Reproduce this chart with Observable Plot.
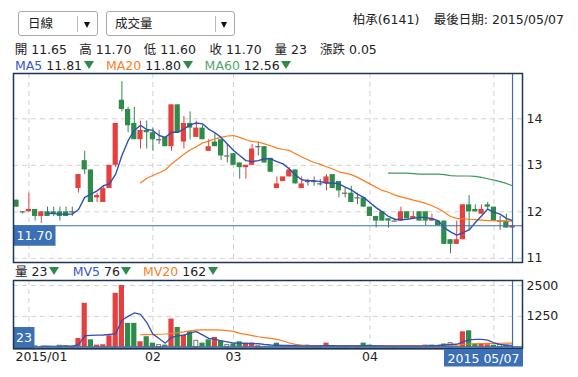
<!DOCTYPE html>
<html><head><meta charset="utf-8">
<script src="https://cdn.jsdelivr.net/npm/d3@7"></script>
<script src="https://cdn.jsdelivr.net/npm/@observablehq/plot@0.6"></script>
<style>
body{margin:0;background:#fff;font-family:"DejaVu Sans","Noto Sans CJK TC",sans-serif;color:#222;}
#wrap{position:relative;width:578px;height:377px;overflow:hidden;}
.abs{position:absolute;white-space:nowrap;line-height:13px;height:13px;font-size:12.5px;}
.abs span{display:inline-block;line-height:13px;height:13px;}
.grp{position:absolute;white-space:nowrap;line-height:13px;height:13px;font-size:12.5px;}
.grp span{display:inline-block;line-height:13px;height:13px;vertical-align:top;}
.grp span.tri{width:0;height:0;border-left:5px solid transparent;border-right:5px solid transparent;border-top:8px solid #2e8b4a;margin-left:1.5px;margin-top:2.5px;}
.sel{position:absolute;top:11px;height:25px;border:1px solid #a9a9a9;border-radius:3px;box-sizing:border-box;background:#fff;}
.sel .t{position:absolute;top:4px;font-size:12.5px;line-height:15px;}
.sel .sep{position:absolute;top:4px;width:1px;height:16px;background:#bbb;}
.sel .arr{position:absolute;top:10px;width:0;height:0;border-left:3.5px solid transparent;border-right:3.5px solid transparent;border-top:6px solid #111;}
#main,#vol{position:absolute;left:0;}
#main{top:68px;} #vol{top:275px;}
</style></head>
<body><div id="wrap">
<div class="sel" style="left:18px;width:80px"><span class="t" style="left:9px">日線</span><span class="sep" style="left:58px"></span><span class="arr" style="left:65px"></span></div>
<div class="sel" style="left:106px;width:129px"><span class="t" style="left:8px">成交量</span><span class="sep" style="left:108px"></span><span class="arr" style="left:113.5px"></span></div>
<div class="abs" style="right:14px;top:13px"><span>柏承(6141)</span><span style="margin-left:14.5px">最後日期: 2015/05/07</span></div>
<div id="ohlc"></div>
<div id="malegend"></div>
<div id="main"></div>
<div id="vlegend"></div>
<div id="vol"></div>
</div>
<script>
// ---- data ----
const opens = [12.25,12.00,12.00,12.05,11.90,12.00,12.00,12.00,12.00,12.00,
 12.50,13.10,12.90,12.30,12.20,12.50,13.00,14.40,14.20,13.90,
 13.55,13.75,13.70,13.55,13.60,13.40,14.30,13.50,13.90,13.60,
 13.80,13.30,13.50,13.55,13.20,13.25,13.05,12.95,13.00,13.40,
 13.40,13.15,12.50,12.65,12.75,12.90,12.50,12.65,12.65,12.60,
 12.60,12.80,12.65,12.40,12.40,12.30,12.30,12.10,11.90,12.00,
 11.85,11.80,11.80,12.00,11.85,12.00,12.00,11.80,11.80,11.80,
 11.40,11.30,11.40,12.15,12.05,11.95,12.15,12.10,11.80,11.80,
 11.65];
const highs = [12.25,12.00,12.40,12.05,12.00,12.10,12.10,12.10,12.10,12.10,
 12.80,13.30,12.90,12.40,12.55,13.00,13.90,14.80,14.25,14.25,
 13.95,13.95,13.80,13.75,13.60,14.30,14.30,14.05,14.15,13.95,
 13.85,13.55,13.70,13.55,13.45,13.25,13.05,13.00,13.45,13.50,
 13.40,13.15,12.75,12.75,12.95,12.90,12.75,12.70,12.75,12.70,
 12.80,12.80,12.65,12.50,12.55,12.40,12.30,12.10,11.90,12.00,
 11.85,11.85,12.10,12.00,12.00,12.00,12.00,11.95,11.80,11.80,
 11.40,11.80,12.15,12.35,12.15,12.15,12.20,12.10,11.90,11.95,
 11.70];
const lows = [12.10,11.95,12.00,11.80,11.75,11.90,11.90,11.80,11.90,11.90,
 12.40,12.80,12.20,12.20,12.20,12.50,12.95,14.15,13.70,13.55,
 13.35,13.35,13.30,13.45,13.40,13.30,13.70,13.35,13.55,13.60,
 13.55,13.30,13.40,13.10,13.05,13.00,12.70,12.70,13.00,13.20,
 13.05,12.85,12.50,12.65,12.75,12.60,12.50,12.55,12.55,12.55,
 12.45,12.50,12.30,12.30,12.20,12.15,12.10,11.90,11.65,11.80,
 11.65,11.80,11.80,11.85,11.85,11.80,11.70,11.80,11.70,11.30,
 11.10,11.30,11.40,11.60,12.00,11.95,12.05,11.80,11.60,11.65,
 11.60];
const closes = [12.10,12.00,12.05,11.90,12.00,11.90,11.95,11.90,11.90,12.00,
 12.80,12.90,12.20,12.35,12.50,13.00,13.90,14.20,13.85,13.55,
 13.75,13.70,13.55,13.55,13.40,14.30,13.70,13.90,13.80,13.80,
 13.55,13.40,13.40,13.20,13.20,13.00,12.95,13.00,13.35,13.40,
 13.05,12.85,12.60,12.75,12.90,12.60,12.60,12.65,12.65,12.60,
 12.75,12.50,12.45,12.40,12.20,12.30,12.10,11.90,11.80,11.80,
 11.80,11.80,12.00,11.85,11.90,11.80,11.80,11.85,11.70,11.30,
 11.30,11.40,12.15,12.00,12.00,12.05,12.10,11.80,11.80,11.65,
 11.70];
const volumes = [80,40,60,55,30,25,20,60,60,20,
 355,1780,300,85,100,465,2185,2500,965,965,
 220,425,165,85,85,1140,800,490,625,260,
 165,300,395,260,85,130,220,165,165,60,
 30,30,165,30,60,30,30,60,20,25,
 165,30,40,30,60,30,165,85,60,30,
 40,30,50,30,40,30,85,85,40,130,
 165,30,625,665,130,130,100,80,90,85,
 23];
const volDir = ["d","f","u","d","u","d","d","f","d","f",
 "u","u","d","u","u","u","u","u","d","d",
 "u","d","d","f","d","u","d","u","d","f",
 "d","d","u","d","f","d","d","u","u","f",
 "d","d","d","u","u","d","d","f","f","f",
 "u","d","d","f","d","f","d","d","d","d",
 "d","f","u","d","u","d","u","d","d","d",
 "f","u","u","d","d","u","u","d","f","d",
 "u"];
const ma5Start = 5;
const ma5 = [11.97,11.96,11.95,11.95,11.95,
 12.05,12.31,12.38,12.45,12.56,12.60,12.81,13.21,13.53,13.75,
 13.86,13.77,13.75,13.64,13.60,13.71,13.71,13.78,13.87,13.91,
 13.89,13.78,13.70,13.60,13.46,13.32,13.21,13.10,13.08,13.10,
 13.14,13.14,13.08,13.03,12.92,12.79,12.69,12.67,12.67,12.65,
 12.62,12.62,12.60,12.53,12.47,12.38,12.31,12.20,12.09,12.00,
 11.90,11.84,11.83,11.84,11.86,11.88,11.88,11.85,11.81,11.66,
 11.57,11.50,11.55,11.61,11.77,11.91,12.06,11.99,11.95,11.86,
 11.81];
const ma20Start = 20;
const ma20 = [12.62,12.72,12.78,12.84,12.90,13.03,13.13,13.24,13.33,13.40,
 13.48,13.52,13.57,13.60,13.63,13.64,13.60,13.55,13.51,13.50,
 13.46,13.42,13.37,13.34,13.32,13.25,13.18,13.12,13.06,13.02,
 12.97,12.92,12.86,12.83,12.80,12.74,12.67,12.60,12.53,12.46,
 12.42,12.36,12.32,12.29,12.25,12.22,12.18,12.13,12.07,11.99,
 11.90,11.86,11.85,11.84,11.83,11.82,11.81,11.81,11.81,11.80,
 11.80];
const ma60Start = 60;
const ma60 = [12.83,12.83,12.83,12.83,12.82,12.81,12.81,12.81,12.81,12.80,
 12.78,12.77,12.77,12.77,12.76,12.74,12.71,12.68,12.65,12.61,
 12.56];
const mv5Start = 4;
const mv5 = [40,40,35,40,45,45,
 100,464,480,490,495,520,545,1090,1250,1388,
 1330,1010,530,355,165,400,460,490,580,630,
 500,360,330,260,220,170,165,150,150,145,
 110,90,80,75,70,60,55,55,50,50,
 60,60,55,50,50,55,60,60,55,50,
 45,45,45,40,40,45,55,65,70,90,
 110,120,220,300,320,315,290,180,110,85,
 76];
const mv20Start = 20;
const mv20 = [505,510,515,525,535,560,590,620,665,690,
 705,708,700,690,670,640,560,520,470,425,
 390,355,320,250,170,115,90,75,70,65,
 65,65,65,65,65,65,65,65,65,65,
 65,65,65,65,65,65,68,70,72,75,
 80,85,110,130,140,150,155,158,160,162,
 162];
const priceTicks = [11, 12, 13, 14];
const volTicks = [1250, 2500];
const monthIdx = [2, 22, 35, 57, 77];
const monthLabels = ["2015/01", "02", "03", "04", "05"];
const lastDateLabel = "2015 05/07";
const headerOHLC = [["開","11.65"],["高","11.70"],["低","11.60"],["收","11.70"],["量","23"],["漲跌","0.05"]];
const maLegend = [["MA5","11.81"],["MA20","11.80"],["MA60","12.56"]];
const mvLegend = [["量","23"],["MV5","76"],["MV20","162"]];

// ---- styles ----
const RED = "#e3403f", GREEN = "#2e8b4a", GRAY = "#666", BLUE = "#2f50b4", ORANGE = "#ff7a1a", MAGREEN = "#3f9a55";
const FRAME = "#1d3656", CROSS = "#3b6db5", GRID = "#d2d2d2";
const FONT = '"DejaVu Sans","Noto Sans CJK TC",sans-serif';

// ---- header legends (layout slots) ----
function legend(el, items, slots, top, colors, withTri) {
  const c = document.getElementById(el);
  items.forEach(([k, v], j) => {
    const d = document.createElement("div");
    d.className = "grp";
    d.style.left = slots[j] + "px"; d.style.top = top + "px";
    d.innerHTML = `<span style="color:${colors ? colors[j] : "#222"}">${k}</span><span>&nbsp;${v}</span>` + (withTri ? '<span class="tri"></span>' : "");
    c.appendChild(d);
  });
}
legend("ohlc", headerOHLC, [14.7, 79.2, 143.7, 209.4, 274.6, 320], 42.5, null, false);
legend("malegend", maLegend, [15, 106, 204.6], 58.5, ["#3558c9", "#f7801f", "#55a56c"], true);
legend("vlegend", mvLegend, [15, 72.7, 143], 264.5, ["#222", "#3558c9", "#f7801f"], true);

// ---- derived tables ----
const idx = d3.range(opens.length);
const candles = idx.map(i => ({i, open: opens[i], high: highs[i], low: lows[i], close: closes[i]}));
const kind = d => d.close > d.open ? RED : d.close < d.open ? GREEN : GRAY;
const series = (start, arr) => arr.map((v, j) => ({i: start + j, v}));
const last = candles[candles.length - 1];
const vols = idx.map(i => ({i, v: volumes[i], dir: volDir[i]}));
const xDomain = [-0.484, 81.61];
const HW = 0.42;

function tag(text, w, value) {
  return (index, scales, values, dim) => {
    const g = d3.create("svg:g");
    const bottom = dim.height - dim.marginBottom;
    let y = scales.y(value);
    if (y + 21 > bottom) y = bottom - 21;
    g.append("rect").attr("x", dim.marginLeft + 0.5).attr("y", y).attr("width", w).attr("height", 20.5).attr("fill", "#3b6fb6");
    g.append("text").attr("x", dim.marginLeft + 0.5 + w / 2).attr("y", y + 10.5).attr("dy", "0.36em")
      .attr("text-anchor", "middle").attr("fill", "#fff").attr("font-size", 12.5).attr("font-family", FONT).text(text);
    return g.node();
  };
}
function dateTag(text) {
  return (index, scales, values, dim) => {
    const g = d3.create("svg:g");
    const right = dim.width - dim.marginRight + 1;
    const top = dim.height - dim.marginBottom + 1;
    const w = 79;
    g.append("rect").attr("x", right - w).attr("y", top).attr("width", w).attr("height", 17.5).attr("fill", "#3b6fb6");
    g.append("text").attr("x", right - w / 2).attr("y", top + 9).attr("dy", "0.36em").attr("text-anchor", "middle")
      .attr("fill", "#fff").attr("font-size", 12.5).attr("font-family", FONT).text(text);
    return g.node();
  };
}

const mainPlot = Plot.plot({
  width: 578, height: 199, marginTop: 5, marginBottom: 5, marginLeft: 13, marginRight: 56,
  x: {domain: xDomain, axis: null},
  y: {domain: [10.91, 14.974], axis: null},
  style: {fontFamily: FONT, fontSize: "12.5px", color: "#222", background: "transparent", overflow: "visible"},
  marks: [
    Plot.ruleX(monthIdx, {stroke: GRID, strokeDasharray: "5,4"}),
    Plot.ruleY(priceTicks, {stroke: GRID, strokeDasharray: "5,4"}),
    Plot.ruleX(candles, {x: "i", y1: "low", y2: "high", stroke: kind, strokeWidth: 1}),
    Plot.rect(candles.filter(d => d.close !== d.open), {x1: d => d.i - HW, x2: d => d.i + HW, y1: "open", y2: "close", fill: kind}),
    Plot.ruleY(candles.filter(d => d.close === d.open), {x1: d => d.i - HW, x2: d => d.i + HW, y: "close", stroke: GRAY, strokeWidth: 1.2}),
    Plot.line(series(ma60Start, ma60), {x: "i", y: "v", stroke: MAGREEN, strokeWidth: 1.2}),
    Plot.line(series(ma20Start, ma20), {x: "i", y: "v", stroke: ORANGE, strokeWidth: 1.2}),
    Plot.line(series(ma5Start, ma5), {x: "i", y: "v", stroke: BLUE, strokeWidth: 1.4}),
    Plot.ruleX([last.i], {stroke: CROSS, strokeWidth: 1.2}),
    Plot.ruleY([last.close], {stroke: CROSS, strokeWidth: 1.2}),
    tag(last.close.toFixed(2), 42, last.close),
    Plot.axisY({anchor: "right", ticks: priceTicks, tickFormat: d => String(d), tickSize: 0, tickPadding: 4, label: null, fontSize: 12.5}),
    Plot.frame({stroke: FRAME, strokeWidth: 1.5})
  ]
});
document.getElementById("main").appendChild(mainPlot);

const volColor = {u: RED, d: GREEN};
const volPlot = Plot.plot({
  width: 578, height: 98, marginTop: 5, marginBottom: 25, marginLeft: 13, marginRight: 56,
  x: {domain: xDomain, axis: null},
  y: {domain: [-52, 2703], axis: null},
  style: {fontFamily: FONT, fontSize: "12.5px", color: "#222", background: "transparent", overflow: "visible"},
  marks: [
    Plot.ruleX(monthIdx, {stroke: GRID, strokeDasharray: "5,4"}),
    Plot.ruleY(volTicks, {stroke: GRID, strokeDasharray: "5,4"}),
    Plot.rect(vols.filter(d => d.dir !== "f"), {x1: d => d.i - HW, x2: d => d.i + HW, y1: 0, y2: "v", fill: d => volColor[d.dir]}),
    Plot.rect(vols.filter(d => d.dir === "f"), {x1: d => d.i - HW + 0.1, x2: d => d.i + HW - 0.1, y1: 0, y2: "v", fill: "#fff", stroke: "#777", strokeWidth: 1}),
    Plot.line(series(mv20Start, mv20), {x: "i", y: "v", stroke: ORANGE, strokeWidth: 1.2}),
    Plot.line(series(mv5Start, mv5), {x: "i", y: "v", stroke: BLUE, strokeWidth: 1.3}),
    Plot.ruleX([last.i], {stroke: CROSS, strokeWidth: 1.2}),
    Plot.ruleY([volumes[volumes.length - 1]], {stroke: CROSS, strokeWidth: 1}),
    tag(String(volumes[volumes.length - 1]), 21, volumes[volumes.length - 1]),
    Plot.axisY({anchor: "right", ticks: volTicks, tickFormat: d => String(d), tickSize: 0, tickPadding: 4, label: null, fontSize: 12.5}),
    Plot.axisX({anchor: "bottom", ticks: monthIdx.slice(1, 4), tickFormat: d => monthLabels[monthIdx.indexOf(d)], tickSize: 0, tickPadding: 4, label: null, fontSize: 12.5}),
    Plot.text([monthLabels[0]], {frameAnchor: "bottom-left", textAnchor: "start", lineAnchor: "top", dx: 2, dy: 4, fontSize: 12.5, fill: "#222"}),
    Plot.frame({stroke: FRAME, strokeWidth: 1.5}),
    Plot.ruleY([-52], {stroke: FRAME, strokeWidth: 2.2}),
    dateTag(lastDateLabel)
  ]
});
document.getElementById("vol").appendChild(volPlot);
</script>
</body></html>
